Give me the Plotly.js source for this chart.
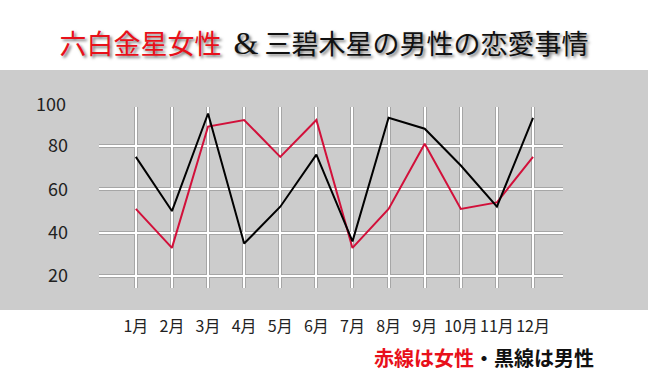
<!DOCTYPE html>
<html><head><meta charset="utf-8">
<script src="https://cdn.plot.ly/plotly-3.0.1.min.js"></script>
<style>html,body{margin:0;padding:0;background:#fff;}#chart{width:648px;height:388px;}</style>
</head><body><div id="chart"></div>
<script>
const months = ['1月','2月','3月','4月','5月','6月','7月','8月','9月','10月','11月','12月'];
const female = [51, 33, 89, 92, 75, 92, 33, 51, 81, 51, 54, 75];
const male = [75, 50, 95, 35, 52, 76, 36, 93, 88, 71, 52, 93];
const yTicks = [20, 40, 60, 80];

const font = '"Noto Sans CJK JP", "Noto Sans", sans-serif';
const data = [
  {x: months, y: female, type: 'scatter', mode: 'lines', line: {color: '#d2103a', width: 2}, xaxis: 'x2', yaxis: 'y2', hoverinfo: 'skip'},
  {x: months, y: male, type: 'scatter', mode: 'lines', line: {color: '#000000', width: 2}, xaxis: 'x2', yaxis: 'y2', hoverinfo: 'skip'},
  {x: months, y: male, type: 'scatter', mode: 'lines', line: {width: 0}, opacity: 0, hoverinfo: 'skip'}
];
const xr = [-1.02, 11.83], yr = [14.5, 98];
const layout = {
  width: 648, height: 388,
  margin: {l: 99, r: 85, t: 107, b: 100},
  paper_bgcolor: '#ffffff', plot_bgcolor: 'rgba(0,0,0,0)',
  showlegend: false,
  font: {family: font, color: '#222'},
  title: {
    text: '<span style="color:#e8101a">六白金星女性</span>  <span style="font-family:\'Liberation Serif\',serif;font-size:32px">&amp;</span> 三碧木星の男性の恋愛事情',
    font: {size: 27, family: font, color: '#111', shadow: '2px 2px 3px #777'},
    x: 0.5, xanchor: 'center', y: 1 - 45/388, yanchor: 'middle'
  },
  xaxis: {type: 'category', range: xr, showgrid: true, gridcolor: '#a6a6a6', gridwidth: 4,
    showticklabels: true, tickfont: {size: 16, color: '#222'}, ticks: '', ticklabelstandoff: 27,
    zeroline: false, showline: false, fixedrange: true},
  yaxis: {range: yr, tickvals: yTicks, showgrid: true, gridcolor: '#a6a6a6', gridwidth: 4,
    tickfont: {size: 18, color: '#222'}, ticks: '', ticklabelstandoff: 30,
    zeroline: false, showline: false, fixedrange: true},
  xaxis2: {type: 'category', overlaying: 'x', range: xr, showgrid: true, gridcolor: '#ffffff', gridwidth: 2,
    showticklabels: false, zeroline: false, showline: false, ticks: '', fixedrange: true},
  yaxis2: {overlaying: 'y', range: yr, tickvals: yTicks, showgrid: true, gridcolor: '#ffffff', gridwidth: 2,
    showticklabels: false, zeroline: false, showline: false, ticks: '', fixedrange: true},
  shapes: [
    {type: 'rect', xref: 'paper', yref: 'paper', layer: 'below',
     x0: -99/464, x1: 549/464, y0: (288-310)/181, y1: (288-70)/181,
     fillcolor: '#cccccc', line: {width: 0}}
  ],
  annotations: [
    {xref: 'paper', yref: 'paper', x: 0, y: (288-103)/181, xanchor: 'right', yanchor: 'middle', xshift: -31,
     text: '100', showarrow: false, font: {size: 18, color: '#222', family: font}},
    {xref: 'paper', yref: 'paper', x: (596-99)/464, y: (288-357)/181, xanchor: 'right', yanchor: 'middle',
     text: '<b><span style="color:#e8101a">赤線は女性</span>・黒線は男性</b>', showarrow: false,
     font: {size: 20, color: '#111', family: font}}
  ]
};
Plotly.newPlot('chart', data, layout, {staticPlot: true, displayModeBar: false});
</script></body></html>
